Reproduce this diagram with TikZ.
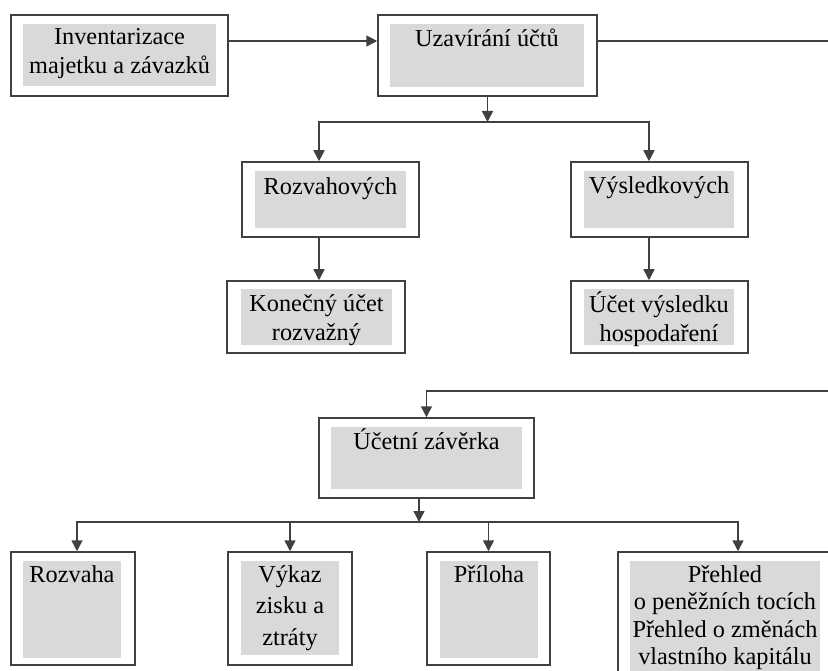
\documentclass[tikz,border=0pt]{standalone}
\usepackage{fontspec}
\setmainfont{Liberation Serif}
\usetikzlibrary{arrows.meta}
\begin{document}
\begin{tikzpicture}[x=1pt,y=-1pt,>={Triangle[length=11pt,width=11pt]},
	font=\fontsize{24.3}{29.5}\selectfont,
	box/.style={draw=black!75, line width=1.5pt, inner sep=0pt},
	greybox/.style={fill=black!15, inner sep=0pt},
	txt/.style={anchor=north, align=center, inner sep=0pt, text=black},
	link/.style={draw=black!75, line width=1.5pt}]
	\useasboundingbox (0,0) rectangle (828,671);
	% top row
	\node[box, minimum width=217, minimum height=81] (inv) at (119.5,55.5) {};
	\node[greybox, minimum width=193, minimum height=62] (inv-g) at (119.5,55) {};
	\node[txt] (inv-t) at (119.5,23.4) {\strut Inventarizace\\majetku a závazků};
	\node[box, minimum width=219, minimum height=81] (uza) at (487.5,55.5) {};
	\node[greybox, minimum width=194, minimum height=63] (uza-g) at (487,55.5) {};
	\node[txt] (uza-t) at (487,25.4) {\strut Uzavírání účtů};
	% accounts
	\node[box, minimum width=177, minimum height=75] (roz) at (330.5,199.5) {};
	\node[greybox, minimum width=151, minimum height=57] (roz-g) at (330.5,199.5) {};
	\node[txt] (roz-t) at (330.5,173.4) {\strut Rozvahových};
	\node[box, minimum width=177, minimum height=75] (vys) at (659.5,199.5) {};
	\node[greybox, minimum width=150, minimum height=57] (vys-g) at (659,199.5) {};
	\node[txt] (vys-t) at (659,172.4) {\strut Výsledkových};
	\node[box, minimum width=178, minimum height=72] (kon) at (316,317) {};
	\node[greybox, minimum width=151, minimum height=56] (kon-g) at (316.5,317) {};
	\node[txt] (kon-t) at (316.5,290.4) {\strut Konečný účet\\rozvažný};
	\node[box, minimum width=177, minimum height=72] (ucet) at (659.5,317) {};
	\node[greybox, minimum width=150, minimum height=56] (ucet-g) at (659,317) {};
	\node[txt] (ucet-t) at (659,291.4) {\strut Účet výsledku\\hospodaření};
	% statements
	\node[box, minimum width=215, minimum height=80] (zav) at (426.5,458) {};
	\node[greybox, minimum width=191, minimum height=62] (zav-g) at (426.5,458) {};
	\node[txt] (zav-t) at (426.5,428.4) {\strut Účetní závěrka};
	\node[box, minimum width=124, minimum height=113] (rozv) at (73,608.5) {};
	\node[greybox, minimum width=98, minimum height=97] (rozv-g) at (72,609.5) {};
	\node[txt] (rozv-t) at (72,561.4) {\strut Rozvaha};
	\node[box, minimum width=124, minimum height=113] (vyk) at (290,608.5) {};
	\node[greybox, minimum width=98, minimum height=94] (vyk-g) at (290,608) {};
	\node[txt, font=\fontsize{24.3}{31.5}\selectfont] (vyk-t) at (290,560) {\strut Výkaz\\zisku a\\ztráty};
	\node[box, minimum width=123, minimum height=113] (pril) at (488.5,608.5) {};
	\node[greybox, minimum width=98, minimum height=97] (pril-g) at (489,609.5) {};
	\node[txt] (pril-t) at (489,561.4) {\strut Příloha};
	\node[box, minimum width=215, minimum height=138] (preh) at (725.5,621) {};
	\node[greybox, minimum width=190, minimum height=119] (preh-g) at (725,620.5) {};
	\node[txt, font=\fontsize{24.3}{27.5}\selectfont] (preh-t) at (725,562.7) {\strut Přehled\\o peněžních tocích\\Přehled o změnách\\vlastního kapitálu};
	% connectors
	\coordinate (hl) at (319,122);
	\coordinate (hr) at (649,122);
	\coordinate (rtop) at (830,41);
	\coordinate (rbot) at (830,391);
	\coordinate (bl) at (77,522);
	\coordinate (br) at (738,522);
	\coordinate (bm) at (419,522);
	\draw[link,->] ([yshift=14.5pt]inv.east) -- ([yshift=14.5pt]uza.west);
	\draw[link] ([yshift=14.5pt]uza.east) -- (rtop);
	\draw[link,->] (uza.south) -- (uza.south |- hl);
	\draw[link,<->] (roz.north -| hl) -- (hl) -- (hr) -- (vys.north -| hr);
	\draw[link,->] (roz.south -| hl) -- (kon.north -| hl);
	\draw[link,->] (vys.south -| hr) -- (ucet.north -| hr);
	\draw[link,->] (rbot) -| (zav.north);
	\draw[link,->] (zav.south -| bm) -- (bm);
	\draw[link,<->] (rozv.north -| bl) -- (bl) -- (br) -- (preh.north -| br);
	\draw[link,->] (vyk.north |- bl) -- (vyk.north);
	\draw[link,->] (pril.north |- bl) -- (pril.north);
\end{tikzpicture}
\end{document}
